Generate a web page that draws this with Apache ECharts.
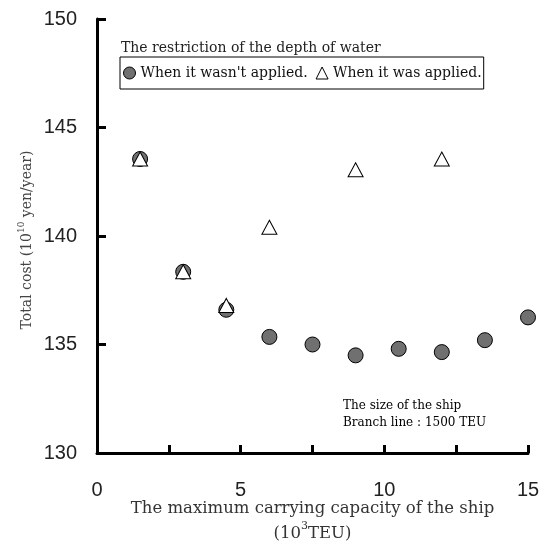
<!DOCTYPE html>
<html>
<head>
<meta charset="utf-8">
<script src="https://cdn.jsdelivr.net/npm/echarts@6/dist/echarts.min.js"></script>
<style>html,body{margin:0;padding:0;background:#fff;}#c{width:541px;height:545px;}</style>
</head>
<body>
<div id="c"></div>
<script>
var capacity = [1.5, 3, 4.5, 6, 7.5, 9, 10.5, 12, 13.5, 15];
var costNotApplied = [143.55, 138.35, 136.6, 135.35, 135.0, 134.5, 134.8, 134.65, 135.2, 136.25];
var capacityApplied = [1.5, 3, 4.5, 6, 9, 12];
var costApplied = [143.55, 138.35, 136.8, 140.4, 143.05, 143.55];
var seriesNames = ["When it wasn't applied.", "When it was applied."];
var legendTitle = "The restriction of the depth of water";
var noteLines = ["The size of the ship", "Branch line : 1500 TEU"];

var serif = 'DejaVu Serif';
var chart = echarts.init(document.getElementById('c'));
chart.setOption({
  animation: false,
  backgroundColor: '#fff',
  grid: {left: 97, right: 13, top: 19, bottom: 92, containLabel: false, outerBoundsMode: 'none'},
  title: {
    text: legendTitle, left: 116, top: 36,
    textStyle: {fontFamily: serif, fontSize: 14, fontWeight: 'normal', color: '#222'}
  },
  legend: {
    left: 120, top: 57, width: 380,
    padding: [9, 2, 9, 3],
    borderColor: '#000', borderWidth: 1,
    itemWidth: 12, itemHeight: 12, itemGap: 8,
    textStyle: {fontFamily: serif, fontSize: 14, color: '#111'},
    data: [
      {name: seriesNames[0], icon: 'circle', itemStyle: {borderWidth: 1}},
      {name: seriesNames[1], icon: 'triangle', itemStyle: {borderWidth: 1}}
    ]
  },
  xAxis: {
    type: 'value', min: 0, max: 15, interval: 2.5,
    axisLine: {lineStyle: {color: '#000', width: 3}},
    axisTick: {inside: true, length: 8, lineStyle: {color: '#000', width: 3}},
    splitLine: {show: false},
    axisLabel: {
      margin: 27, fontFamily: 'Liberation Sans', fontSize: 20, color: '#222',
      formatter: function (v) { return (v % 5 === 0) ? String(v) : ''; }
    },
    name: '{a|The maximum carrying capacity of the ship}\n{a|(10}{s|3}{a|TEU)}',
    nameLocation: 'middle', nameGap: 43, nameMoveOverlap: false,
    nameTextStyle: {
      rich: {
        a: {fontFamily: serif, fontSize: 16.5, color: '#333', lineHeight: 25},
        s: {fontFamily: serif, fontSize: 11, color: '#333', lineHeight: 25, verticalAlign: 'top'}
      }
    }
  },
  yAxis: {
    type: 'value', min: 130, max: 150, interval: 5,
    axisLine: {lineStyle: {color: '#000', width: 3}},
    axisTick: {inside: true, length: 9, lineStyle: {color: '#000', width: 3}},
    splitLine: {show: false},
    axisLabel: {margin: 20, fontFamily: 'Liberation Sans', fontSize: 20, color: '#222'},
    name: '{a|Total cost (10}{s|10}{a| yen/year)}',
    nameLocation: 'middle', nameGap: 60, nameRotate: 90, nameMoveOverlap: false,
    nameTextStyle: {
      padding: [0, 8, 0, 0],
      rich: {
        a: {fontFamily: serif, fontSize: 14, color: '#444', lineHeight: 20},
        s: {fontFamily: serif, fontSize: 9, color: '#444', lineHeight: 20, verticalAlign: 'top'}
      }
    }
  },
  graphic: [{
    type: 'text', left: 343, top: 397,
    style: {text: noteLines.join('\n'), font: '12px "DejaVu Serif"', fill: '#000', lineHeight: 17}
  }],
  series: [
    {
      name: seriesNames[0], type: 'scatter', symbol: 'circle', symbolSize: 15,
      itemStyle: {color: '#707070', borderColor: '#000', borderWidth: 1, opacity: 1},
      data: capacity.map(function (x, i) { return [x, costNotApplied[i]]; }),
      z: 2
    },
    {
      name: seriesNames[1], type: 'scatter', symbol: 'triangle', symbolSize: [15, 14],
      itemStyle: {color: '#fff', borderColor: '#000', borderWidth: 1, opacity: 1},
      data: capacityApplied.map(function (x, i) { return [x, costApplied[i]]; }),
      z: 3
    }
  ]
});
</script>
</body>
</html>
